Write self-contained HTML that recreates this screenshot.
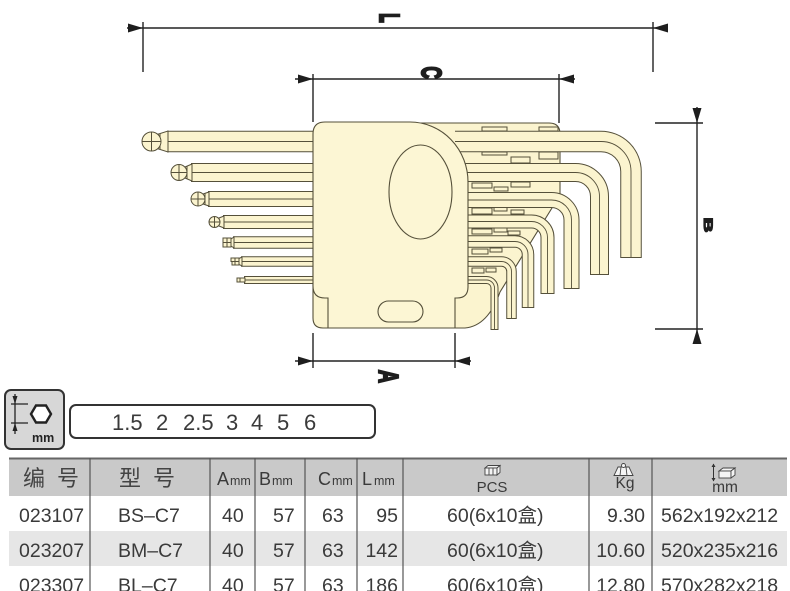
<!DOCTYPE html>
<html>
<head>
<meta charset="utf-8">
<style>
html,body{margin:0;padding:0;background:#fff;}
body{width:790px;height:591px;overflow:hidden;}
svg{display:block;}
.t{font-family:"Liberation Sans","Noto Sans CJK SC",sans-serif;fill:#3a3a3a;}
.cj{font-family:"Liberation Sans","Noto Sans CJK SC",sans-serif;fill:#444;}
.lbl{font-family:"Liberation Sans",sans-serif;font-weight:bold;fill:#1e1e1e;stroke:#1e1e1e;}
</style>
</head>
<body>
<svg width="790" height="591" viewBox="0 0 790 591" xmlns="http://www.w3.org/2000/svg">
<!-- ============ DIMENSIONS ============ -->
<g stroke="#222" stroke-width="1.4" fill="none">
  <line x1="127" y1="28" x2="668" y2="28"/>
  <line x1="143" y1="22" x2="143" y2="72"/>
  <line x1="653" y1="22" x2="653" y2="72"/>
  <line x1="295" y1="79" x2="575" y2="79"/>
  <line x1="313" y1="74" x2="313" y2="122"/>
  <line x1="559" y1="74" x2="559" y2="123"/>
  <line x1="295" y1="361" x2="471" y2="361"/>
  <line x1="313" y1="333" x2="313" y2="368"/>
  <line x1="455" y1="333" x2="455" y2="368"/>
  <line x1="697" y1="107" x2="697" y2="343"/>
  <line x1="655" y1="123" x2="703" y2="123"/>
  <line x1="655" y1="329" x2="703" y2="329"/>
</g>
<g fill="#1e1e1e">
  <polygon points="128,23.5 143,28 128,32.5"/>
  <polygon points="668,23.5 653,28 668,32.5"/>
  <polygon points="298,74.5 313,79 298,83.5"/>
  <polygon points="574,74.5 559,79 574,83.5"/>
  <polygon points="298,356.5 313,361 298,365.5"/>
  <polygon points="470,356.5 455,361 470,365.5"/>
  <polygon points="692.5,108 697,123 701.5,108"/>
  <polygon points="692.5,344 697,329 701.5,344"/>
</g>
<text class="lbl" font-size="28" stroke-width="2.6" text-anchor="middle" y="10" transform="translate(390,18) rotate(90) scale(0.55,1)">L</text>
<text class="lbl" font-size="28" stroke-width="2.4" text-anchor="middle" y="10" transform="translate(432,72.5) rotate(90) scale(0.6,1)">C</text>
<text class="lbl" font-size="28" stroke-width="2.2" text-anchor="middle" y="10" transform="translate(389,376.5) rotate(90) scale(0.65,1)">A</text>
<text class="lbl" font-size="12" stroke-width="1.2" text-anchor="middle" y="4.3" transform="translate(708.5,225) rotate(90) scale(1.7,1)">B</text>

<!-- ============ HOLDER BACK PLATE ============ -->
<path d="M410,123 L549,123 Q560,123 560,134 L560,195 L500,292 Q488,326 465,328 L323,328 Q313,328 313,318 L313,250 Z" fill="#fbf4cf" stroke="#55503a" stroke-width="1.1"/>

<g fill="#fbf4cf" stroke="#55503a" stroke-width="1">
  <rect x="482" y="127" width="25" height="4"/>
  <rect x="539" y="127" width="19" height="4"/>
  <rect x="482" y="152" width="25" height="3"/>
  <rect x="511" y="157" width="19" height="6"/>
  <rect x="539" y="152" width="19" height="7"/>
  <rect x="472" y="183" width="20" height="5"/>
  <rect x="494" y="187" width="14" height="4"/>
  <rect x="511" y="182" width="19" height="5"/>
  <rect x="472" y="208" width="20" height="6"/>
  <rect x="494" y="207" width="13" height="4"/>
  <rect x="511" y="210" width="13" height="4"/>
  <rect x="472" y="229" width="20" height="5"/>
  <rect x="494" y="228" width="13" height="4"/>
  <rect x="508" y="231" width="12" height="4"/>
  <rect x="472" y="249" width="16" height="5"/>
  <rect x="490" y="248" width="12" height="4"/>
  <rect x="472" y="268" width="12" height="5"/>
  <rect x="486" y="268" width="10" height="4"/>
</g>

<!-- ============ RIGHT KEY ARMS ============ -->
<g fill="none" stroke-linecap="butt" stroke-linejoin="round">
  <g stroke="#55503a">
    <path d="M455,141.5 L601,141.5 A30,30 0 0 1 631,171.5 L631,258" stroke-width="21.5"/>
    <path d="M455,172.5 L575.5,172.5 A24,24 0 0 1 599.5,196.5 L599.5,275" stroke-width="19"/>
    <path d="M455,200 L551.5,200 A20,20 0 0 1 571.5,220 L571.5,289" stroke-width="16"/>
    <path d="M455,221.5 L531.5,221.5 A16,16 0 0 1 547.5,237.5 L547.5,294" stroke-width="14"/>
    <path d="M455,241.5 L515,241.5 A13,13 0 0 1 528,254.5 L528,308" stroke-width="12.5"/>
    <path d="M455,261.5 L501.5,261.5 A10,10 0 0 1 511.5,271.5 L511.5,319" stroke-width="10.5"/>
    <path d="M455,280 L486.5,280 A8,8 0 0 1 494.5,288 L494.5,330" stroke-width="8"/>
  </g>
  <g stroke="#fbf4cf">
    <path d="M455,141.5 L601,141.5 A30,30 0 0 1 631,171.5 L631,257" stroke-width="19.5"/>
    <path d="M455,172.5 L575.5,172.5 A24,24 0 0 1 599.5,196.5 L599.5,274" stroke-width="17"/>
    <path d="M455,200 L551.5,200 A20,20 0 0 1 571.5,220 L571.5,288" stroke-width="14"/>
    <path d="M455,221.5 L531.5,221.5 A16,16 0 0 1 547.5,237.5 L547.5,293" stroke-width="12"/>
    <path d="M455,241.5 L515,241.5 A13,13 0 0 1 528,254.5 L528,307" stroke-width="10.5"/>
    <path d="M455,261.5 L501.5,261.5 A10,10 0 0 1 511.5,271.5 L511.5,318" stroke-width="8.5"/>
    <path d="M455,280 L486.5,280 A8,8 0 0 1 494.5,288 L494.5,329" stroke-width="6"/>
  </g>
  <g stroke="#55503a" stroke-width="0.9">
    <path d="M455,141.5 L601,141.5 A30,30 0 0 1 631,171.5 L631,257"/>
    <path d="M455,172.5 L575.5,172.5 A24,24 0 0 1 599.5,196.5 L599.5,274"/>
    <path d="M455,200 L551.5,200 A20,20 0 0 1 571.5,220 L571.5,288"/>
    <path d="M455,221.5 L531.5,221.5 A16,16 0 0 1 547.5,237.5 L547.5,293"/>
    <path d="M455,241.5 L515,241.5 A13,13 0 0 1 528,254.5 L528,307"/>
    <path d="M455,261.5 L501.5,261.5 A10,10 0 0 1 511.5,271.5 L511.5,318"/>
    <path d="M455,280 L486.5,280 A8,8 0 0 1 494.5,288 L494.5,329"/>
  </g>
</g>

<!-- ============ LEFT BALL-END SHAFTS ============ -->
<g fill="none" stroke-linecap="butt">
  <g stroke="#55503a">
    <line x1="167" y1="141.5" x2="320" y2="141.5" stroke-width="21.5"/>
    <line x1="191" y1="172.5" x2="320" y2="172.5" stroke-width="19"/>
    <line x1="208" y1="199" x2="320" y2="199" stroke-width="16"/>
    <line x1="223" y1="222" x2="320" y2="222" stroke-width="14"/>
    <line x1="233" y1="242.5" x2="320" y2="242.5" stroke-width="12.5"/>
    <line x1="241" y1="261.5" x2="320" y2="261.5" stroke-width="10.5"/>
    <line x1="244" y1="280" x2="320" y2="280" stroke-width="8"/>
  </g>
  <g stroke="#fbf4cf">
    <line x1="168" y1="141.5" x2="320" y2="141.5" stroke-width="19.5"/>
    <line x1="192" y1="172.5" x2="320" y2="172.5" stroke-width="17"/>
    <line x1="209" y1="199" x2="320" y2="199" stroke-width="14"/>
    <line x1="224" y1="222" x2="320" y2="222" stroke-width="12"/>
    <line x1="234" y1="242.5" x2="320" y2="242.5" stroke-width="10.5"/>
    <line x1="242" y1="261.5" x2="320" y2="261.5" stroke-width="8.5"/>
    <line x1="245" y1="280" x2="320" y2="280" stroke-width="6"/>
  </g>
  <g stroke="#55503a" stroke-width="0.9">
    <line x1="168" y1="141.5" x2="320" y2="141.5"/>
    <line x1="192" y1="172.5" x2="320" y2="172.5"/>
    <line x1="209" y1="199" x2="320" y2="199"/>
    <line x1="224" y1="222" x2="320" y2="222"/>
    <line x1="234" y1="242.5" x2="320" y2="242.5"/>
    <line x1="242" y1="261.5" x2="320" y2="261.5"/>
    <line x1="245" y1="280" x2="320" y2="280"/>
  </g>
</g>
<g fill="#fbf4cf" stroke="#55503a" stroke-width="1">
  <polygon points="157,134.5 168,131 168,152 157,148.5"/>
  <line x1="160" y1="133.5" x2="160" y2="149.5"/>
  <circle cx="151.5" cy="141.5" r="9.5"/>
  <line x1="151.5" y1="132" x2="151.5" y2="151"/>
  <line x1="142" y1="141.5" x2="161" y2="141.5"/>

  <polygon points="185,167 192,164 192,181 185,178"/>
  <line x1="187" y1="166" x2="187" y2="179"/>
  <circle cx="179" cy="172.5" r="8"/>
  <line x1="179" y1="164.5" x2="179" y2="180.5"/>
  <line x1="171" y1="172.5" x2="187" y2="172.5"/>

  <polygon points="203,194 209,192 209,206 203,204"/>
  <line x1="205" y1="193.5" x2="205" y2="204.5"/>
  <circle cx="198" cy="199" r="7"/>
  <line x1="198" y1="192" x2="198" y2="206"/>
  <line x1="191" y1="199" x2="205" y2="199"/>

  <polygon points="219,218 224,216 224,228 219,226"/>
  <circle cx="214.5" cy="222" r="5.5"/>
  <line x1="214.5" y1="216.5" x2="214.5" y2="227.5"/>
  <line x1="209" y1="222" x2="220" y2="222"/>

  <polygon points="231,239 234,237 234,248 231,246"/>
  <rect x="223" y="238" width="8" height="4.5"/>
  <rect x="223" y="242.5" width="8" height="4.5"/>
  <line x1="227" y1="238" x2="227" y2="247"/>

  <polygon points="239,258.5 242,257 242,266 239,264.5"/>
  <rect x="231" y="258" width="8" height="3.5"/>
  <rect x="232" y="261.5" width="7" height="3.5"/>
  <line x1="235" y1="258" x2="235" y2="265"/>

  <rect x="237" y="278" width="8" height="4"/>
  <line x1="240" y1="278" x2="240" y2="282"/>
</g>

<!-- ============ FRONT BODY ============ -->
<path d="M313,134 Q313,122 325,122 L410,122 A58,60 0 0 1 468,182 L468,287 Q468,298 457,298 L455,298 L455,328 L328,328 L328,298 L325,298 Q313,298 313,286 Z" fill="#fcf6d4" stroke="#55503a" stroke-width="1.1"/>
<ellipse cx="420.5" cy="192" rx="31.5" ry="47" fill="#fcf6d4" stroke="#55503a" stroke-width="1.1"/>
<rect x="378" y="301" width="45" height="21" rx="10.5" ry="10.5" fill="#fcf6d4" stroke="#55503a" stroke-width="1.1"/>

<!-- ============ SIZE ICON BOX ============ -->
<rect x="5" y="390" width="59" height="59" rx="6" ry="6" fill="#d7d7d7" stroke="#333" stroke-width="2"/>
<g stroke="#222" stroke-width="1.3" fill="none">
  <line x1="15" y1="394" x2="15" y2="434"/>
  <line x1="11" y1="404" x2="28" y2="404"/>
  <line x1="11" y1="423" x2="28" y2="423"/>
</g>
<g fill="#222">
  <polygon points="12.5,396 17.5,396 15,404"/>
  <polygon points="12.5,431 17.5,431 15,423"/>
</g>
<polygon points="31,414 36,405.5 46,405.5 51,414 46,422.5 36,422.5" fill="#fff" stroke="#222" stroke-width="2.4"/>
<text x="32" y="442" font-family="Liberation Sans, sans-serif" font-weight="bold" font-size="12.5" fill="#222">mm</text>

<rect x="70" y="405" width="305" height="33" rx="6" ry="6" fill="#fff" stroke="#333" stroke-width="2"/>
<g class="t" font-size="22" fill="#333">
  <text x="112" y="430">1.5</text>
  <text x="156" y="430">2</text>
  <text x="183" y="430">2.5</text>
  <text x="226" y="430">3</text>
  <text x="251" y="430">4</text>
  <text x="277" y="430">5</text>
  <text x="304" y="430">6</text>
</g>

<!-- ============ TABLE ============ -->
<rect x="9" y="458" width="778" height="38" fill="#c9c9c9"/>
<rect x="9" y="531" width="778" height="35" fill="#e6e6e6"/>
<line x1="9" y1="458.5" x2="787" y2="458.5" stroke="#666" stroke-width="2"/>
<g stroke="#555" stroke-width="1.2">
  <line x1="90" y1="458" x2="90" y2="591"/>
  <line x1="210" y1="458" x2="210" y2="591"/>
  <line x1="255" y1="458" x2="255" y2="591"/>
  <line x1="305" y1="458" x2="305" y2="591"/>
  <line x1="357" y1="458" x2="357" y2="591"/>
  <line x1="403" y1="458" x2="403" y2="591"/>
  <line x1="589" y1="458" x2="589" y2="591"/>
  <line x1="652" y1="458" x2="652" y2="591"/>
</g>

<g class="cj" font-size="22">
  <text x="23" y="486">编</text>
  <text x="57" y="486">号</text>
  <text x="119" y="486">型</text>
  <text x="153" y="486">号</text>
</g>
<g class="t" fill="#444">
  <text x="217" y="485" font-size="18">A</text><text x="230" y="485" font-size="12.5">mm</text>
  <text x="259" y="485" font-size="18">B</text><text x="272" y="485" font-size="12.5">mm</text>
  <text x="318" y="485" font-size="18">C</text><text x="332" y="485" font-size="12.5">mm</text>
  <text x="362" y="485" font-size="18">L</text><text x="374" y="485" font-size="12.5">mm</text>
  <text x="492" y="492" font-size="15" text-anchor="middle">PCS</text>
  <text x="625" y="488" font-size="15.5" text-anchor="middle">Kg</text>
  <text x="725" y="492" font-size="15.5" text-anchor="middle">mm</text>
</g>
<g fill="#f4f4f4" stroke="#444" stroke-width="0.9">
  <path d="M485,468 L497,468 L500,465.5 L488,465.5 Z"/>
  <rect x="485" y="468" width="12" height="7"/>
  <path d="M497,468 L500,465.5 L500,472.5 L497,475 Z"/>
  <line x1="489" y1="468" x2="489" y2="475"/>
  <line x1="493" y1="468" x2="493" y2="475"/>
  <path d="M618,467 L629,467 L633,475.5 L614,475.5 Z"/>
  <circle cx="623.5" cy="465.5" r="2"/>
  <line x1="621" y1="467" x2="620" y2="475.5"/>
  <line x1="626" y1="467" x2="627" y2="475.5"/>
  <path d="M719,471 L731,471 L735,468 L723,468 Z"/>
  <rect x="719" y="471" width="12" height="7"/>
  <path d="M731,471 L735,468 L735,475 L731,478 Z"/>
</g>
<g stroke="#333" stroke-width="1">
  <line x1="713.5" y1="464" x2="713.5" y2="481"/>
</g>
<g fill="#333">
  <polygon points="711.5,467 715.5,467 713.5,463.5"/>
  <polygon points="711.5,478 715.5,478 713.5,481.5"/>
</g>

<g class="t" font-size="19.5">
  <text x="19" y="522">023107</text>
  <text x="118" y="522">BS–C7</text>
  <text x="222" y="522">40</text>
  <text x="273" y="522">57</text>
  <text x="322" y="522">63</text>
  <text x="398" y="522" text-anchor="end">95</text>
  <text x="447" y="522">60(6x10盒)</text>
  <text x="645" y="522" text-anchor="end">9.30</text>
  <text x="661" y="522">562x192x212</text>

  <text x="19" y="557">023207</text>
  <text x="118" y="557">BM–C7</text>
  <text x="222" y="557">40</text>
  <text x="273" y="557">57</text>
  <text x="322" y="557">63</text>
  <text x="398" y="557" text-anchor="end">142</text>
  <text x="447" y="557">60(6x10盒)</text>
  <text x="645" y="557" text-anchor="end">10.60</text>
  <text x="661" y="557">520x235x216</text>

  <text x="19" y="592">023307</text>
  <text x="118" y="592">BL–C7</text>
  <text x="222" y="592">40</text>
  <text x="273" y="592">57</text>
  <text x="322" y="592">63</text>
  <text x="398" y="592" text-anchor="end">186</text>
  <text x="447" y="592">60(6x10盒)</text>
  <text x="645" y="592" text-anchor="end">12.80</text>
  <text x="661" y="592">570x282x218</text>
</g>
</svg>
</body>
</html>
